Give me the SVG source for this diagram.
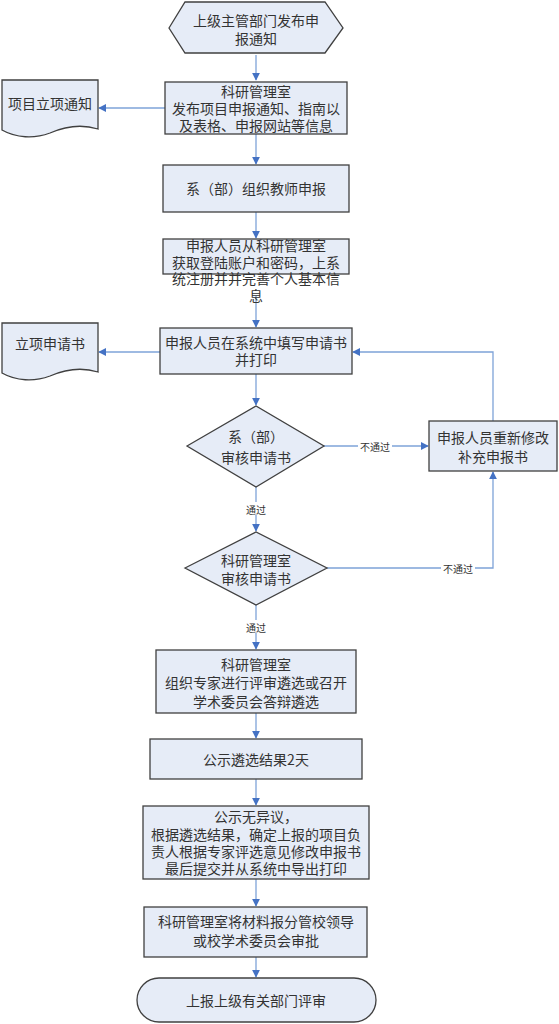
<svg xmlns="http://www.w3.org/2000/svg" width="559" height="1024" viewBox="0 0 559 1024">
<style>
.n{fill:#E6ECF7;stroke:#404040;stroke-width:1.3}
.t{font-family:"Noto Sans CJK SC","Noto Sans",sans-serif;font-size:14px;fill:#333;text-anchor:middle;dominant-baseline:central}
.s{font-family:"Noto Sans CJK SC","Noto Sans",sans-serif;font-size:10px;fill:#333;text-anchor:middle;dominant-baseline:central}
.c{fill:none;stroke:#7EA3D8;stroke-width:1.3}
.lb{fill:#fff}
</style>
<defs>
<marker id="a" viewBox="0 0 10 10" refX="9" refY="5" markerWidth="8" markerHeight="8" orient="auto" markerUnits="userSpaceOnUse">
<path d="M0,0 L10,5 L0,10 Z" fill="#4472C4"/>
</marker>
</defs>
<g id="connectors">
<path class="c" d="M256,55 V80" marker-end="url(#a)"/>
<path class="c" d="M165,108 H99" marker-end="url(#a)"/>
<path class="c" d="M256,134 V164" marker-end="url(#a)"/>
<path class="c" d="M256,212 V238" marker-end="url(#a)"/>
<path class="c" d="M256,296 V327" marker-end="url(#a)"/>
<path class="c" d="M160,352 H99" marker-end="url(#a)"/>
<path class="c" d="M256,374 V405" marker-end="url(#a)"/>
<path class="c" d="M324,446 H428" marker-end="url(#a)"/>
<rect class="lb" x="358" y="439" width="34" height="13"/>
<text class="s" x="375" y="446">不通过</text>
<path class="c" d="M493,421 V352 H353" marker-end="url(#a)"/>
<path class="c" d="M256,487 V531" marker-end="url(#a)"/>
<rect class="lb" x="244" y="502" width="24" height="13"/>
<text class="s" x="256" y="509">通过</text>
<path class="c" d="M327,568 H493 V472" marker-end="url(#a)"/>
<rect class="lb" x="441" y="561" width="34" height="13"/>
<text class="s" x="458" y="568">不通过</text>
<path class="c" d="M256,605 V649" marker-end="url(#a)"/>
<rect class="lb" x="244" y="620" width="24" height="13"/>
<text class="s" x="256" y="627">通过</text>
<path class="c" d="M256,713 V738" marker-end="url(#a)"/>
<path class="c" d="M256,779 V805" marker-end="url(#a)"/>
<path class="c" d="M256,879 V906" marker-end="url(#a)"/>
<path class="c" d="M256,957 V977" marker-end="url(#a)"/>
</g>
<g id="n1">
<polygon class="n" points="169,28 185,2 325,2 343,28 325,53 185,53"/>
<text class="t" x="256" y="20">上级主管部门发布申</text>
<text class="t" x="256" y="38">报通知</text>
</g>
<g id="n2">
<rect class="n" x="165" y="82" width="182" height="52"/>
<text class="t" x="256" y="91">科研管理室</text>
<text class="t" x="256" y="108">发布项目申报通知、指南以</text>
<text class="t" x="256" y="125">及表格、申报网站等信息</text>
</g>
<g id="d1">
<path class="n" d="M2,80 H98 V129 C82,124 66,126 50,133 C34,139 16,138 2,130 Z"/>
<text class="t" x="50" y="103">项目立项通知</text>
</g>
<g id="n3">
<rect class="n" x="163" y="165" width="186" height="47"/>
<text class="t" x="256" y="188">系（部）组织教师申报</text>
</g>
<g id="n4">
<rect class="n" x="163" y="239" width="186" height="35"/>
<text class="t" x="256" y="245">申报人员从科研管理室</text>
<text class="t" x="256" y="262">获取登陆账户和密码，上系</text>
<text class="t" x="256" y="278">统注册并并完善个人基本信</text>
<text class="t" x="256" y="295">息</text>
</g>
<g id="n5">
<rect class="n" x="160" y="328" width="192" height="46"/>
<text class="t" x="256" y="342">申报人员在系统中填写申请书</text>
<text class="t" x="256" y="359">并打印</text>
</g>
<g id="d2">
<path class="n" d="M2,323 H98 V372 C82,367 66,369 50,376 C34,382 16,381 2,373 Z"/>
<text class="t" x="50" y="343">立项申请书</text>
</g>
<g id="q1">
<polygon class="n" points="187,446 256,406 324,446 256,487"/>
<text class="t" x="256" y="436">系（部）</text>
<text class="t" x="256" y="457">审核申请书</text>
</g>
<g id="n6">
<rect class="n" x="429" y="421" width="128" height="50"/>
<text class="t" x="493" y="437">申报人员重新修改</text>
<text class="t" x="493" y="456">补充申报书</text>
</g>
<g id="q2">
<polygon class="n" points="185,568 256,532 327,568 256,605"/>
<text class="t" x="256" y="560">科研管理室</text>
<text class="t" x="256" y="578">审核申请书</text>
</g>
<g id="n7">
<rect class="n" x="156" y="650" width="200" height="63"/>
<text class="t" x="256" y="664">科研管理室</text>
<text class="t" x="256" y="682">组织专家进行评审遴选或召开</text>
<text class="t" x="256" y="701">学术委员会答辩遴选</text>
</g>
<g id="n8">
<rect class="n" x="150" y="739" width="212" height="40"/>
<text class="t" x="256" y="759">公示遴选结果2天</text>
</g>
<g id="n9">
<rect class="n" x="143" y="806" width="226" height="73"/>
<text class="t" x="256" y="816">公示无异议，</text>
<text class="t" x="256" y="834">根据遴选结果，确定上报的项目负</text>
<text class="t" x="256" y="851">责人根据专家评选意见修改申报书</text>
<text class="t" x="256" y="868">最后提交并从系统中导出打印</text>
</g>
<g id="n10">
<rect class="n" x="144" y="907" width="223" height="50"/>
<text class="t" x="256" y="921">科研管理室将材料报分管校领导</text>
<text class="t" x="256" y="940">或校学术委员会审批</text>
</g>
<g id="n11">
<rect class="n" x="137" y="978" width="239" height="44" rx="22" ry="22"/>
<text class="t" x="256" y="1000">上报上级有关部门评审</text>
</g>
</svg>
